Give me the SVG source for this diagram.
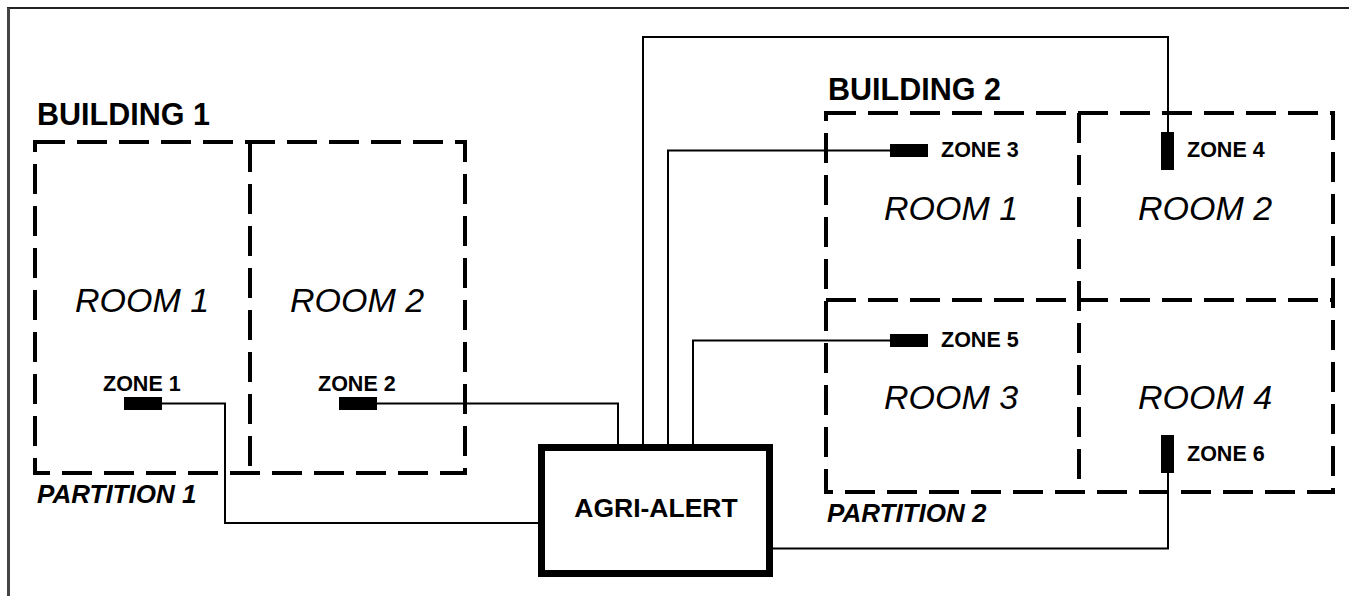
<svg xmlns="http://www.w3.org/2000/svg" width="1349" height="596" viewBox="0 0 1349 596">
<style>
.bg{fill:#fff}
.wall{fill:none;stroke:#000;stroke-width:4;stroke-dasharray:30 12}
.wire{fill:none;stroke:#000;stroke-width:2}
.sensor{fill:#000}
.bld{font-family:"Liberation Sans",Arial,sans-serif;font-weight:bold;font-size:30.5px;fill:#000}
.room{font-family:"Liberation Sans",Arial,sans-serif;font-style:italic;font-size:34px;fill:#000;text-anchor:middle}
.zone{font-family:"Liberation Sans",Arial,sans-serif;font-weight:bold;font-size:21.5px;fill:#000}
.part{font-family:"Liberation Sans",Arial,sans-serif;font-weight:bold;font-style:italic;font-size:26px;fill:#000}
.main{font-family:"Liberation Sans",Arial,sans-serif;font-weight:bold;font-size:26.5px;fill:#000;text-anchor:middle}
</style>
<rect class="bg" x="0" y="0" width="1349" height="596"/>
<g id="frame">
<line x1="7" y1="8" x2="1349" y2="8" stroke="#222" stroke-width="2"/>
<line x1="8.5" y1="8" x2="8.5" y2="596" stroke="#444" stroke-width="3"/>
</g>
<g id="building1">
<text class="bld" x="37" y="125">BUILDING 1</text>
<rect class="wall" x="35" y="142" width="430" height="331"/>
<line class="wall" x1="250" y1="142" x2="250" y2="473"/>
<text class="part" x="37" y="503">PARTITION 1</text>
</g>
<g id="b1-room1"><text class="room" x="142" y="312">ROOM 1</text></g>
<g id="b1-room2"><text class="room" x="357" y="312">ROOM 2</text></g>
<g id="building2">
<text class="bld" x="828" y="100">BUILDING 2</text>
<rect class="wall" x="826" y="113" width="507" height="379"/>
<line class="wall" x1="1079" y1="113" x2="1079" y2="492"/>
<line class="wall" x1="826" y1="300" x2="1333" y2="300"/>
<text class="part" x="827" y="522">PARTITION 2</text>
</g>
<g id="b2-room1"><text class="room" x="951" y="220">ROOM 1</text></g>
<g id="b2-room2"><text class="room" x="1205" y="220">ROOM 2</text></g>
<g id="b2-room3"><text class="room" x="951" y="409">ROOM 3</text></g>
<g id="b2-room4"><text class="room" x="1205" y="409">ROOM 4</text></g>
<g id="connectors">
<polyline class="wire" points="162,403.5 225,403.5 225,523 540,523"/>
<polyline class="wire" points="377,403.5 618,403.5 618,446"/>
<polyline class="wire" points="643,446 643,37 1168,37 1168,133"/>
<polyline class="wire" points="668,446 668,150.5 891,150.5"/>
<polyline class="wire" points="693,446 693,340.5 891,340.5"/>
<polyline class="wire" points="772,548.5 1168,548.5 1168,472"/>
</g>
<g id="zone1"><rect class="sensor" x="124" y="397" width="38" height="13"/><text class="zone" x="103" y="391">ZONE 1</text></g>
<g id="zone2"><rect class="sensor" x="339" y="397" width="38" height="13"/><text class="zone" x="318" y="391">ZONE 2</text></g>
<g id="zone3"><rect class="sensor" x="890" y="144" width="38" height="13"/><text class="zone" x="941" y="157">ZONE 3</text></g>
<g id="zone4"><rect class="sensor" x="1161" y="132" width="13" height="38"/><text class="zone" x="1187" y="157">ZONE 4</text></g>
<g id="zone5"><rect class="sensor" x="890" y="334" width="38" height="13"/><text class="zone" x="941" y="347">ZONE 5</text></g>
<g id="zone6"><rect class="sensor" x="1161" y="435" width="13" height="38"/><text class="zone" x="1187" y="461">ZONE 6</text></g>
<g id="agri-alert">
<rect x="541.5" y="447.5" width="228" height="126" fill="#fff" stroke="#000" stroke-width="7"/>
<text class="main" x="656" y="517">AGRI-ALERT</text>
</g>
</svg>
